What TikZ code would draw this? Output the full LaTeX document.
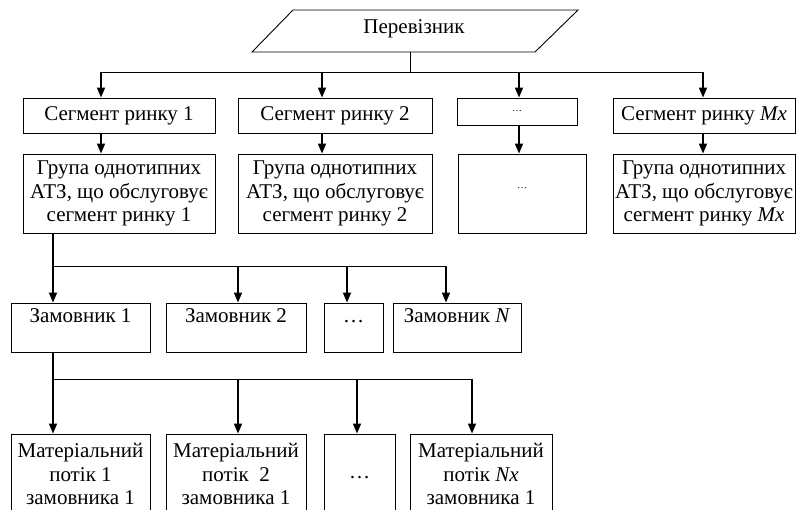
\documentclass[tikz,border=0pt]{standalone}
\usepackage{fontspec}
\setmainfont{Liberation Serif}
\usetikzlibrary{arrows.meta,calc}
\begin{document}
\begin{tikzpicture}[x=1pt,y=-1pt,
  box/.style={draw, line width=0.9pt, inner sep=0pt, align=center,
    font=\fontsize{21}{23.3}\selectfont},
  smalldots/.style={font=\fontsize{10}{11}\selectfont},
  arr/.style={line width=1.7pt, -{Triangle[length=10pt,width=8pt]}},
  bus/.style={line width=1pt},
  stem/.style={line width=0.7pt}]
\clip (0,0) rectangle (802,509);
% carrier
\draw[line width=0.9pt] (293,10) -- (578,10) -- (535,52) -- (252,52) -- cycle;
\node[font=\fontsize{21}{23.3}\selectfont, anchor=base] (carrier) at (414,33) {Перевізник};
\coordinate (c0) at (410,52);
\coordinate (b0) at (410,72);
\coordinate (b1) at (101,72);
\coordinate (b2) at (322,72);
\coordinate (b3) at (519,72);
\coordinate (b4) at (703,72);
% segment row
\node[box, minimum width=192, minimum height=35] (s1) at (119,115.5) {Сегмент ринку 1};
\node[box, minimum width=194, minimum height=35] (s2) at (335,115.5) {Сегмент ринку 2};
\node[box, smalldots, minimum width=120, minimum height=27] (s3) at (517,111.5) {\dots};
\node[box, minimum width=182, minimum height=35] (s4) at (704,115.5) {Сегмент ринку \textit{Mx}};
% group row
\node[box, minimum width=192, minimum height=79] (g1) at (119,193.5) {Група однотипних\\АТЗ, що обслуговує\\сегмент ринку 1};
\node[box, minimum width=194, minimum height=79] (g2) at (335,193.5) {Група однотипних\\АТЗ, що обслуговує\\сегмент ринку 2};
\node[box, smalldots, minimum width=128, minimum height=79] (g3) at (522,193.5) {\dots\\\mbox{}};
\node[box, minimum width=182, minimum height=79] (g4) at (704,193.5) {Група однотипних\\АТЗ, що обслуговує\\сегмент ринку \textit{Mx}};
% customers
\node[box, minimum width=139, minimum height=49] (z1) at (80.5,327.5) {Замовник 1\\\mbox{}};
\node[box, minimum width=140, minimum height=49] (z2) at (236,327.5) {Замовник 2\\\mbox{}};
\node[box, minimum width=59, minimum height=49] (z3) at (353.5,327.5) {\vphantom{З}\dots\\\mbox{}};
\node[box, minimum width=128, minimum height=49] (z4) at (457,327.5) {Замовник \textit{N}\\\mbox{}};
% flows
\node[box, minimum width=139, minimum height=80] (m1) at (80.5,474) {Матеріальний\\потік 1\\замовника 1};
\node[box, minimum width=140, minimum height=80] (m2) at (236,474) {Матеріальний\\потік\ \ 2\\замовника 1};
\node[box, minimum width=71, minimum height=80] (m3) at (359.5,474) {\vphantom{о}\dots};
\node[box, minimum width=142, minimum height=80] (m4) at (481,474) {Матеріальний\\потік \textit{Nx}\\замовника 1};
% level 1 connectors
\draw[stem] (c0) -- (b0);
\draw[bus] (b1) -- (b4);
\draw[arr] (b1) -- (b1 |- s1.north);
\draw[arr] (b2) -- (b2 |- s2.north);
\draw[arr] (b3) -- (b3 |- s3.north);
\draw[arr] (b4) -- (b4 |- s4.north);
\draw[arr] (s1.south -| b1) -- (g1.north -| b1);
\draw[arr] (s2.south -| b2) -- (g2.north -| b2);
\draw[arr] (s3.south -| b3) -- (g3.north -| b3);
\draw[arr] (s4.south -| b4) -- (g4.north -| b4);
% level 2
\coordinate (j1) at (53,266);
\coordinate (j2) at (238,266);
\coordinate (j3) at (347,266);
\coordinate (j4) at (446,266);
\draw[arr] (g1.south -| j1) -- (z1.north -| j1);
\draw[bus] (j1) -- (j4);
\draw[arr] (j2) -- (j2 |- z2.north);
\draw[arr] (j3) -- (j3 |- z3.north);
\draw[arr] (j4) -- (j4 |- z4.north);
% level 3
\coordinate (k1) at (53,379);
\coordinate (k2) at (238,379);
\coordinate (k3) at (357,379);
\coordinate (k4) at (472,379);
\draw[arr] (z1.south -| k1) -- (m1.north -| k1);
\draw[bus] (k1) -- (k4);
\draw[arr] (k2) -- (k2 |- m2.north);
\draw[arr] (k3) -- (k3 |- m3.north);
\draw[arr] (k4) -- (k4 |- m4.north);
\end{tikzpicture}
\end{document}
